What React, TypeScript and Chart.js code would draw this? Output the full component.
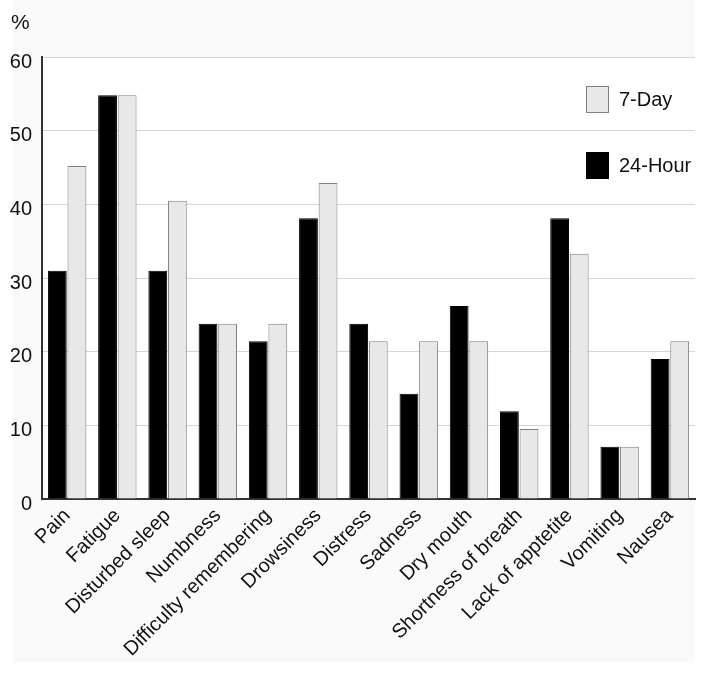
import React, { useEffect, useRef } from "react";
import { Chart, registerables } from "chart.js";

Chart.register(...registerables);

const categories = [
  "Pain",
  "Fatigue",
  "Disturbed sleep",
  "Numbness",
  "Difficulty remembering",
  "Drowsiness",
  "Distress",
  "Sadness",
  "Dry mouth",
  "Shortness of breath",
  "Lack of apptetite",
  "Vomiting",
  "Nausea",
];

const hour24 = [31.0, 54.8, 31.0, 23.8, 21.4, 38.1, 23.8, 14.3, 26.2, 11.9, 38.1, 7.1, 19.0];
const day7 = [45.2, 54.8, 40.5, 23.8, 23.8, 42.9, 21.4, 21.4, 21.4, 9.5, 33.3, 7.1, 21.4];

const legendItems = [
  { label: "7-Day", fill: "#e8e8e8", stroke: "#808080" },
  { label: "24-Hour", fill: "#000000", stroke: "#000000" },
];

const FONT = "'Liberation Sans', Arial, sans-serif";

const decorPlugin = {
  id: "decor",
  beforeDraw(chart: any) {
    const { ctx, chartArea } = chart;
    ctx.save();
    ctx.fillStyle = "#ffffff";
    ctx.fillRect(0, 0, chart.width, chart.height);
    ctx.fillStyle = "#fafafa";
    ctx.fillRect(12, 0, 683, 663);
    ctx.fillStyle = "#ffffff";
    ctx.fillRect(chartArea.left, chartArea.top, chartArea.right - chartArea.left, chartArea.bottom - chartArea.top);
    ctx.restore();
  },
  afterDraw(chart: any) {
    const { ctx } = chart;
    ctx.save();
    ctx.fillStyle = "#111111";
    ctx.font = `21px ${FONT}`;
    ctx.textBaseline = "alphabetic";
    ctx.textAlign = "left";
    ctx.fillText("%", 11, 29);
    const ys = [86, 152];
    legendItems.forEach((it, i) => {
      ctx.fillStyle = it.fill;
      ctx.fillRect(586, ys[i], 23, 27);
      ctx.strokeStyle = it.stroke;
      ctx.lineWidth = 1;
      ctx.strokeRect(586.5, ys[i] + 0.5, 22, 26);
      ctx.fillStyle = "#111111";
      ctx.font = `20px ${FONT}`;
      ctx.textBaseline = "middle";
      ctx.fillText(it.label, 619, ys[i] + 14);
    });
    ctx.restore();
  },
};

export default function App() {
  const ref = useRef<HTMLCanvasElement | null>(null);
  useEffect(() => {
    if (!ref.current) return;
    const chart = new Chart(ref.current, {
      type: "bar",
      data: {
        labels: categories,
        datasets: [
          {
            label: "24-Hour",
            data: hour24,
            backgroundColor: "#000000",
            borderColor: "#000000",
            borderWidth: 1,
            categoryPercentage: 0.78,
            barPercentage: 0.96,
          },
          {
            label: "7-Day",
            data: day7,
            backgroundColor: "#e8e8e8",
            borderColor: "#808080",
            borderWidth: 1,
            categoryPercentage: 0.78,
            barPercentage: 0.96,
          },
        ],
      },
      options: {
        responsive: false,
        animation: false,
        layout: { padding: { top: 57, right: 9, left: 0, bottom: 0 } },
        plugins: {
          legend: { display: false },
          tooltip: { enabled: false },
        },
        scales: {
          x: {
            grid: { display: false, drawTicks: false },
            border: { display: true, color: "#333333", width: 2 },
            ticks: {
              color: "#111111",
              font: { family: FONT, size: 20 },
              minRotation: 45,
              maxRotation: 45,
              autoSkip: false,
              padding: 5,
            },
            afterFit(scale: any) {
              scale.height = 174;
            },
          },
          y: {
            min: 0,
            max: 60,
            grid: { color: "#d6d6d6", lineWidth: 1, drawTicks: false },
            border: { display: true, color: "#333333", width: 2 },
            ticks: {
              stepSize: 10,
              color: "#111111",
              font: { family: FONT, size: 20 },
              padding: 10,
              labelOffset: 5,
            },
            afterFit(scale: any) {
              scale.width = 42;
            },
          },
        },
      },
      plugins: [decorPlugin],
    });
    return () => chart.destroy();
  }, []);
  return (
    <div style={{ position: "fixed", left: 0, top: 0, width: 704, height: 673 }}>
      <canvas ref={ref} width={704} height={673} style={{ width: 704, height: 673 }} />
    </div>
  );
}
